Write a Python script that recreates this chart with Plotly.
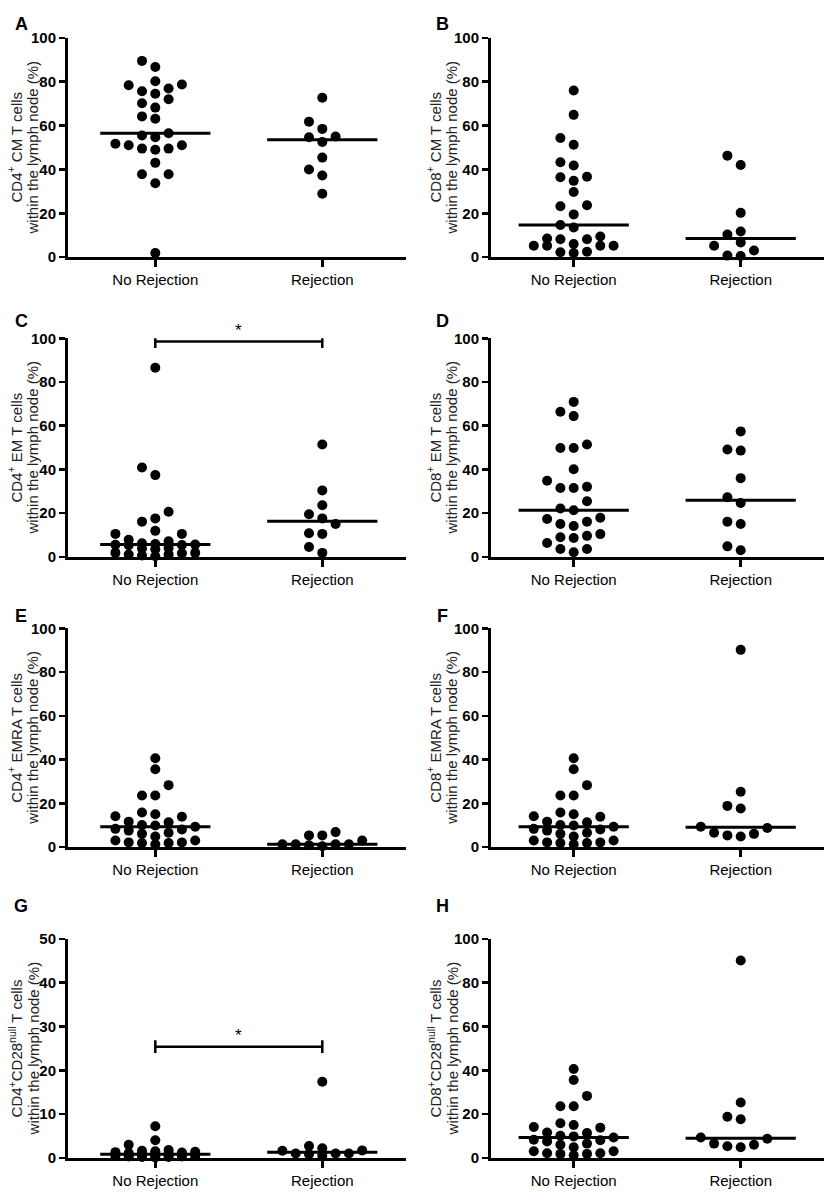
import numpy as np
import plotly.graph_objects as go

# ---------------- data ----------------
CATEGORIES = ["No Rejection", "Rejection"]
LINE2 = "within the lymph node (%)"

A_NR = [89.5, 86.7, 80.2, 78.4, 74.5, 76.9, 78.7, 75.7, 72.0, 70.2, 68.2, 64.2, 63.1, 54.7,
        51.0, 49.5, 49.5, 55.5, 56.5, 51.0, 49.0, 51.7, 43.0, 37.8, 37.8, 33.7, 1.9]
A_R = [72.7, 61.8, 58.5, 54.7, 55.0, 52.5, 45.4, 40.0, 37.2, 28.9]

B_NR = [76.0, 64.9, 54.3, 51.3, 43.3, 41.8, 36.7, 36.4, 34.8, 29.7, 23.7, 23.2, 19.5, 14.7,
        13.5, 9.4, 8.2, 8.2, 8.5, 6.0, 5.2, 5.2, 5.2, 5.2, 2.2, 1.9, 2.5]
B_R = [46.3, 42.0, 20.2, 11.7, 10.3, 6.7, 5.2, 3.0, 0.7, 0.5]

C_NR = [86.5, 40.9, 37.4, 20.6, 17.6, 16.1, 11.9, 10.5, 10.5, 7.8, 7.1, 6.2, 5.9, 5.6,
        5.5, 5.4, 5.3, 4.0, 3.8, 3.5, 1.8, 1.6, 1.1, 0.6, 0.3, 1.0, 1.8]
C_R = [51.4, 30.4, 23.6, 19.5, 17.6, 15.0, 10.8, 10.5, 4.5, 1.8]

D_NR = [70.9, 66.4, 64.4, 51.4, 49.8, 49.8, 40.1, 32.1, 31.5, 31.5, 34.8, 25.4, 22.1, 21.3,
        17.3, 17.9, 15.0, 16.1, 14.1, 10.4, 9.0, 8.6, 9.6, 6.3, 3.6, 2.1, 3.6]
D_R = [57.4, 48.6, 49.1, 36.0, 27.3, 24.6, 16.1, 15.0, 4.8, 3.0]

E_NR = [40.6, 35.6, 28.3, 23.6, 23.6, 15.8, 15.0, 14.1, 13.8, 11.6, 11.3, 10.1, 9.8, 9.3,
        8.3, 8.0, 7.5, 6.5, 6.0, 4.8, 3.0, 3.0, 2.1, 2.1, 1.8, 1.8, 1.2]
E_R = [6.8, 5.3, 5.3, 3.0, 1.2, 1.2, 1.2, 1.2, 0.8, 0.3]

F_NR = [40.6, 35.6, 28.3, 23.6, 23.6, 15.8, 15.0, 14.1, 13.8, 11.6, 11.3, 10.1, 9.8, 9.3,
        8.3, 8.0, 7.5, 6.5, 6.0, 4.8, 3.0, 3.0, 2.1, 2.1, 1.8, 1.8, 1.2]
F_R = [90.2, 25.3, 18.8, 17.6, 9.3, 8.7, 6.5, 6.0, 5.3, 4.8]

G_NR = [7.2, 4.0, 3.0, 1.8, 1.6, 1.5, 1.4, 1.3, 1.2, 1.1, 1.0, 1.0, 0.9, 0.8,
        0.8, 0.7, 0.6, 0.6, 0.5, 0.5, 0.4, 0.4, 0.3, 0.3, 0.2, 0.2, 0.1]
G_R = [17.4, 2.7, 2.2, 1.7, 1.6, 1.0, 1.0, 1.0, 0.8, 0.5]

H_NR = [40.6, 35.6, 28.3, 23.6, 23.6, 15.8, 15.0, 14.1, 13.8, 11.6, 11.3, 10.1, 9.8, 9.3,
        8.3, 8.0, 7.5, 6.5, 6.0, 4.8, 3.0, 3.0, 2.1, 2.1, 1.8, 1.8, 1.2]
H_R = [90.2, 25.3, 18.8, 17.6, 9.3, 8.7, 6.5, 6.0, 5.3, 4.8]

Y_TITLES = {
    "A": "CD4<sup>+</sup> CM T cells",
    "B": "CD8<sup>+</sup> CM T cells",
    "C": "CD4<sup>+</sup> EM T cells",
    "D": "CD8<sup>+</sup> EM T cells",
    "E": "CD4<sup>+</sup> EMRA T cells",
    "F": "CD8<sup>+</sup> EMRA T cells",
    "G": "CD4<sup>+</sup>CD28<sup>null</sup> T cells",
    "H": "CD8<sup>+</sup>CD28<sup>null</sup> T cells",
}
Y_MAX = {"A": 100, "B": 100, "C": 100, "D": 100, "E": 100, "F": 100, "G": 50, "H": 100}
Y_STEP = {"A": 20, "B": 20, "C": 20, "D": 20, "E": 20, "F": 20, "G": 10, "H": 20}
SIGNIF = {"C": 98.5, "G": 25.4}   # height of the "*" comparison bar
SIG_LABEL = "*"

PANEL_DATA = {"A": (A_NR, A_R), "B": (B_NR, B_R), "C": (C_NR, C_R), "D": (D_NR, D_R),
              "E": (E_NR, E_R), "F": (F_NR, F_R), "G": (G_NR, G_R), "H": (H_NR, H_R)}

# ---------------- layout geometry (pixels) ----------------
W, H = 830, 1203
COLS = {0: dict(left=68, right=406, t0=155.3), 1: dict(left=491, right=824, t0=573.7)}
TICK_SP = 167.0
ROWS = {0: (29.3, 251.7), 1: (334.0, 555.7), 2: (628.3, 850.0), 3: (943.3, 1165.3)}
LETTER_POS = {0: 15, 1: 316, 2: 616, 3: 910}
TITLE_X1 = {0: 15, 1: 434}
TITLE_X2 = {0: 33, 1: 452}
LETTER_X = {0: 21, 1: 442}
DOT = 10
SLOT = 13.3

FONT = "Liberation Sans, Arial, sans-serif"


def swarm(vals, px_per_unit, maxk=3, thr=10.5):
    """Greedy beeswarm: returns horizontal offsets in pixels."""
    vals = np.asarray(vals, float)
    order = np.argsort(vals, kind="stable")
    cand = [0]
    for k in range(1, maxk + 1):
        cand += [-k, k]
    placed = {s: [] for s in cand}
    off = np.zeros(len(vals))
    for i in order:
        y = vals[i] * px_per_unit
        chosen = None
        best, best_c = None, -1
        for s in cand:
            c = min([abs(y - yy) for yy in placed[s]], default=1e9)
            if c >= thr:
                chosen = s
                break
            if c > best_c:
                best, best_c = s, c
        if chosen is None:
            chosen = best
        placed[chosen].append(y)
        off[i] = chosen * SLOT
    return off


fig = go.Figure()
annotations = []
letters = "ABCDEFGH"
for idx, L in enumerate(letters):
    r, c = divmod(idx, 2)
    col = COLS[c]
    top, bot = ROWS[r]
    n = idx + 1
    xa = "x" if n == 1 else f"x{n}"
    ya = "y" if n == 1 else f"y{n}"
    xkey = "xaxis" if n == 1 else f"xaxis{n}"
    ykey = "yaxis" if n == 1 else f"yaxis{n}"
    ymax = Y_MAX[L]
    ppu = (bot - top) / ymax
    xr = [(col["left"] - col["t0"]) / TICK_SP, (col["right"] - col["t0"]) / TICK_SP]

    nr, rj = PANEL_DATA[L]
    for gi, vals in enumerate((nr, rj)):
        off = swarm(vals, ppu) / TICK_SP
        fig.add_trace(go.Scatter(
            x=gi + off, y=vals, mode="markers", xaxis=xa, yaxis=ya,
            marker=dict(size=DOT, color="black", line=dict(width=0)),
            cliponaxis=False, hoverinfo="skip", showlegend=False))
        med = float(np.median(vals))
        fig.add_trace(go.Scatter(
            x=[gi - 0.33, gi + 0.33], y=[med, med], mode="lines", xaxis=xa, yaxis=ya,
            line=dict(color="black", width=3), cliponaxis=False, hoverinfo="skip",
            showlegend=False))

    if L in SIGNIF:
        h = SIGNIF[L]
        cap = 6.5 / ppu
        fig.add_trace(go.Scatter(
            x=[0, 1, None, 0, 0, None, 1, 1],
            y=[h, h, None, h - cap, h + cap, None, h - cap, h + cap],
            mode="lines", xaxis=xa, yaxis=ya, line=dict(color="black", width=2.5),
            cliponaxis=False, hoverinfo="skip", showlegend=False))
        annotations.append(dict(x=0.5, y=h, xref=xa, yref=ya, text=SIG_LABEL,
                                showarrow=False, yanchor="bottom", yshift=0,
                                font=dict(family=FONT, size=17, color="black")))

    fig.layout[xkey] = dict(
        domain=[col["left"] / W, col["right"] / W], range=xr, anchor=ya,
        tickvals=[0, 1], ticktext=CATEGORIES, ticks="outside", ticklen=7, tickwidth=2.5,
        tickcolor="black", showline=True, linewidth=3, linecolor="black",
        showgrid=False, zeroline=False, fixedrange=True,
        tickfont=dict(family=FONT, size=15, color="black"))
    fig.layout[ykey] = dict(
        domain=[1 - bot / H, 1 - top / H], range=[0, ymax], anchor=xa,
        tickvals=list(range(0, ymax + 1, Y_STEP[L])), ticks="outside", ticklen=6,
        tickwidth=2.5, tickcolor="black", showline=True, linewidth=3, linecolor="black",
        showgrid=False, zeroline=False, fixedrange=True,
        tickfont=dict(family=FONT, size=15, color="black", weight="bold"))

    ymid = 1 - (top + bot) / 2 / H
    for tx, txt in ((TITLE_X1[c], Y_TITLES[L]), (TITLE_X2[c], LINE2)):
        annotations.append(dict(
            x=tx / W, y=ymid, xref="paper", yref="paper",
            text=txt, textangle=-90, showarrow=False,
            xanchor="center", yanchor="middle",
            font=dict(family=FONT, size=15, color="#222222")))
    annotations.append(dict(
        x=LETTER_X[c] / W, y=1 - LETTER_POS[r] / H, xref="paper", yref="paper",
        text=f"<b>{L}</b>", showarrow=False, xanchor="center", yanchor="middle",
        font=dict(family=FONT, size=18, color="black")))

fig.update_layout(
    width=W, height=H, margin=dict(l=0, r=0, t=0, b=0),
    paper_bgcolor="white", plot_bgcolor="white", showlegend=False,
    hovermode=False, annotations=annotations)

fig.write_html("out.html", config={"displayModeBar": False, "staticPlot": True},
               post_script="document.body.style.margin='0';document.body.style.overflow='hidden';")
